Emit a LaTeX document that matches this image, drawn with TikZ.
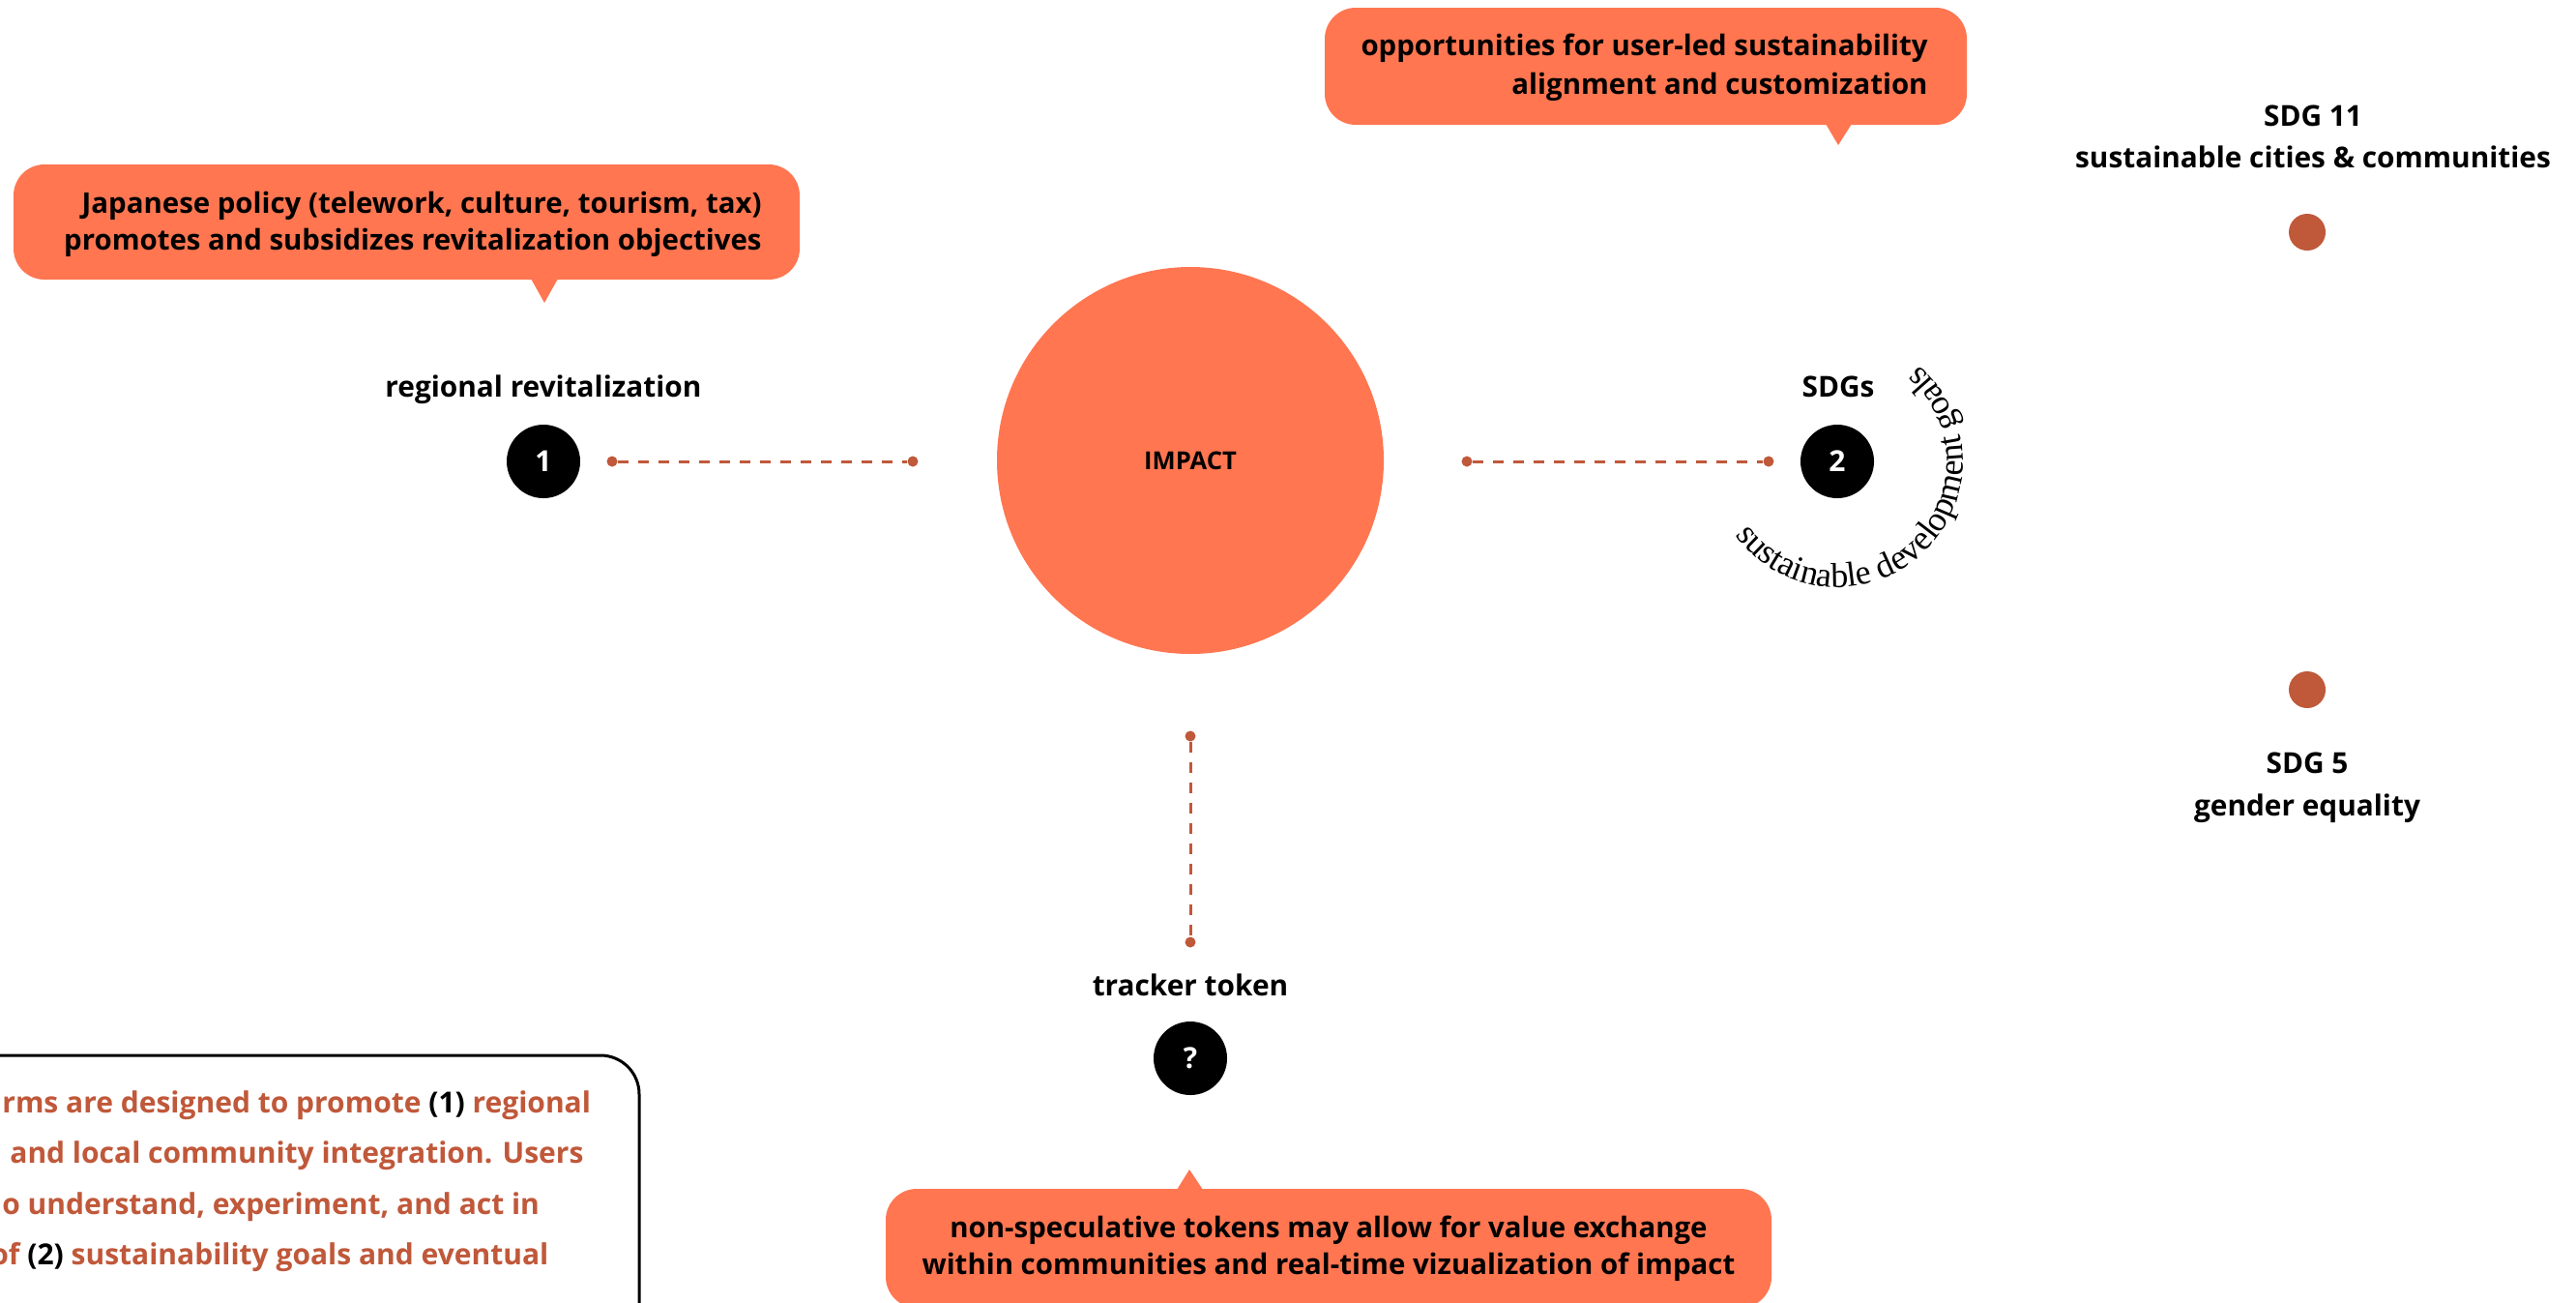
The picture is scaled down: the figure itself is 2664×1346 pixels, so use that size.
\documentclass[tikz,border=0pt]{standalone}
\usepackage{fontspec}
\setmainfont{Open Sans}
\newfontfamily\sdgserif{Liberation Serif}
\usetikzlibrary{decorations.text}
\definecolor{coral}{RGB}{255,118,81}
\definecolor{rust}{RGB}{192,88,58}
\newcommand\arcfont{\sdgserif\fontsize{18}{20}\selectfont}
\begin{document}
\begin{tikzpicture}[x=0.5pt,y=0.5pt,
 lbl/.style={font=\fontsize{14.9}{17}\selectfont\bfseries, inner sep=0, anchor=base},
 btxt/.style={font=\fontsize{14.7}{17}\selectfont\bfseries, inner sep=0, text=black},
 numc/.style={circle, fill=black, minimum size=38pt, inner sep=0, text=white, font=\fontsize{15}{17}\selectfont\bfseries},
 rdot/.style={circle, fill=rust, minimum size=5.5pt, inner sep=0},
 bigdot/.style={circle, fill=rust, minimum size=19pt, inner sep=0},
 dashline/.style={draw=rust, line width=1.5pt, dash pattern=on 5.5pt off 5pt},
 bubble/.style={fill=coral, rounded corners=16pt},
 boxtxt/.style={font=\fontsize{15}{17}\selectfont\bfseries, text=rust, inner sep=0, anchor=base west}]
\useasboundingbox (0,0) rectangle (2664,-1346);
\clip (0,0) rectangle (2664,-1346);
\fill[white] (0,0) rectangle (2664,-1346);

% bubble A
\fill[bubble] (14,-170) rectangle (827,-289);
\fill[coral] (549,-288) -- (563,-313) -- (577,-288) -- cycle;
\node[btxt, anchor=base east] (bA1) at (788,-220) {Japanese policy (telework, culture, tourism, tax)};
\node[btxt, anchor=base east] (bA2) at (788,-258) {promotes and subsidizes revitalization objectives};

% bubble B
\fill[bubble] (1370,-8) rectangle (2034,-129);
\fill[coral] (1888,-128) -- (1901,-150) -- (1915,-128) -- cycle;
\node[btxt, anchor=base east] (bB1) at (1994,-57) {opportunities for user-led sustainability};
\node[btxt, anchor=base east] (bB2) at (1994,-97) {alignment and customization};

% bubble C
\fill[bubble] (916,-1229) rectangle (1832,-1352);
\fill[coral] (1217,-1230) -- (1230,-1209) -- (1244,-1230) -- cycle;
\node[btxt, anchor=base] (bC1) at (1374,-1279) {non-speculative tokens may allow for value exchange};
\node[btxt, anchor=base] (bC2) at (1374,-1317) {within communities and real-time vizualization of impact};

% impact
\node[circle, fill=coral, minimum size=200pt, inner sep=0, font=\fontsize{12.8}{15}\selectfont\bfseries] (impact) at (1231,-476) {IMPACT};

% numbered circles
\node[numc] (n1) at (562,-477) {1};
\node[numc] (n2) at (1900,-477) {2};
\node[numc] (n3) at (1231,-1094) {?};

\node[lbl] (l1) at (562,-410) {regional revitalization};
\node[lbl] (l2) at (1901,-410) {SDGs};
\node[lbl] (l3) at (1231,-1029) {tracker token};

% connectors
\node[rdot] (d1a) at (633,-477) {};
\node[rdot] (d1b) at (944,-477) {};
\node[rdot] (d2a) at (1517,-477) {};
\node[rdot] (d2b) at (1829,-477) {};
\node[rdot] (d3a) at (1231,-761) {};
\node[rdot] (d3b) at (1231,-974) {};
\draw[dashline] (d1a) -- (d1b);
\draw[dashline] (d2a) -- (d2b);
\draw[dashline] (d3a) -- (d3b);

% curved text
\path[decorate, decoration={text along path, text={|\arcfont|sustainable development goals}, text align=left}]
  (1900,-477) ++(216:130) arc (216:430:130);

% SDG dots
\node[bigdot] (s11) at (2386,-240) {};
\node[lbl] (s11a) at (2392,-130) {SDG 11};
\node[lbl] (s11b) at (2392,-173) {sustainable cities \& communities};
\node[bigdot] (s5) at (2386,-713) {};
\node[lbl] (s5a) at (2386,-799) {SDG 5};
\node[lbl] (s5b) at (2386,-843) {gender equality};

% bottom-left box
\draw[line width=1.5pt, rounded corners=20pt] (-60,-1091) rectangle (661,-1420);
\node[boxtxt] (t1) at (2,-1150) {rms are designed to promote \textcolor{black}{(1)} regional};
\node[boxtxt] (t2) at (10,-1202) {and local community integration. Users};
\node[boxtxt] (t3) at (2,-1255) {o understand, experiment, and act in};
\node[boxtxt] (t4) at (-10,-1307) {of \textcolor{black}{(2)} sustainability goals and eventual};
\end{tikzpicture}
\end{document}
